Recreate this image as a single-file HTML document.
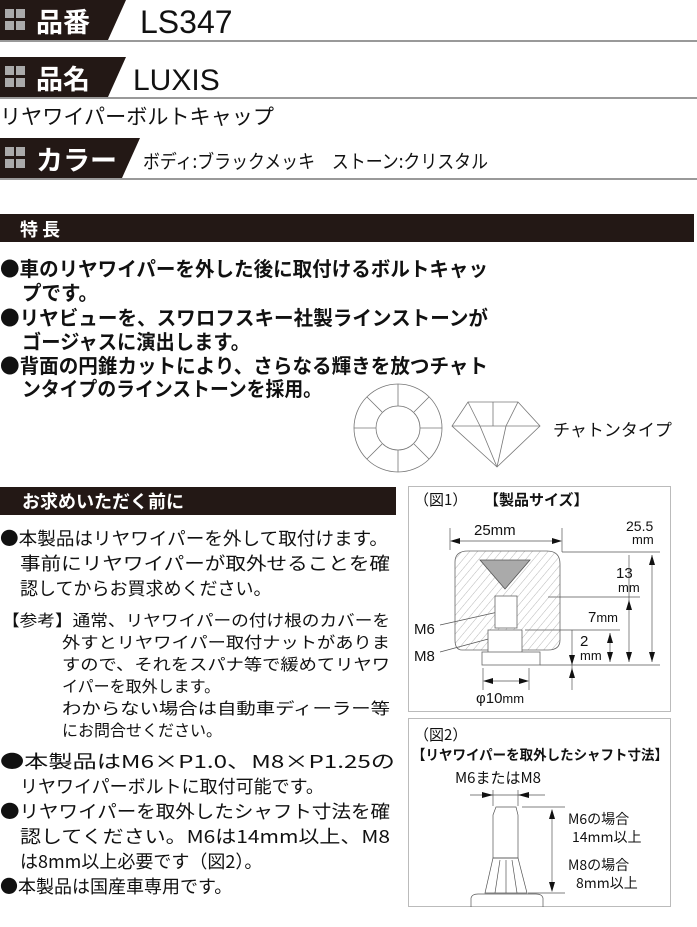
<!DOCTYPE html>
<html><head><meta charset="utf-8"><style>
html,body{margin:0;padding:0;background:#fff;}
svg{display:block;}
text{font-family:"Liberation Sans","Noto Sans CJK JP",sans-serif;fill:#111;}
.j{font-family:"Noto Sans CJK JP",sans-serif;}
</style></head><body>
<svg width="697" height="927" viewBox="0 0 697 927" xmlns="http://www.w3.org/2000/svg">
<polygon points="0,0 126,0 108,40 0,40" fill="#231815"/>
<rect x="5" y="9" width="9" height="9" fill="#aaa"/><rect x="16" y="9" width="9" height="9" fill="#aaa"/>
<rect x="5" y="21" width="9" height="9" fill="#aaa"/><rect x="16" y="21" width="9" height="9" fill="#aaa"/>
<text x="36" y="32" class="j" font-size="27" font-weight="bold" style="fill:#fff">品番</text>
<text x="140" y="33" font-size="32">LS347</text>
<rect x="0" y="40" width="697" height="2" fill="#999"/>
<polygon points="0,57 126,57 108,97 0,97" fill="#231815"/>
<rect x="5" y="66" width="9" height="9" fill="#aaa"/><rect x="16" y="66" width="9" height="9" fill="#aaa"/>
<rect x="5" y="78" width="9" height="9" fill="#aaa"/><rect x="16" y="78" width="9" height="9" fill="#aaa"/>
<text x="36" y="89" class="j" font-size="27" font-weight="bold" style="fill:#fff">品名</text>
<text x="133" y="90" font-size="30">LUXIS</text>
<rect x="0" y="97" width="697" height="2" fill="#999"/>
<text x="0" y="124" class="j" font-size="21" textLength="274" lengthAdjust="spacingAndGlyphs">リヤワイパーボルトキャップ</text>
<polygon points="0,138 140,138 122,178 0,178" fill="#231815"/>
<rect x="5" y="147" width="9" height="9" fill="#aaa"/><rect x="16" y="147" width="9" height="9" fill="#aaa"/>
<rect x="5" y="159" width="9" height="9" fill="#aaa"/><rect x="16" y="159" width="9" height="9" fill="#aaa"/>
<text x="36" y="170" class="j" font-size="27" font-weight="bold" style="fill:#fff">カラー</text>
<text x="143" y="168" class="j" font-size="19" textLength="345" lengthAdjust="spacingAndGlyphs">ボディ:ブラックメッキ　ストーン:クリスタル</text>
<rect x="0" y="178" width="697" height="2" fill="#999"/>
<rect x="0" y="214" width="694" height="28" fill="#231815"/>
<text x="20" y="236" class="j" font-size="18" font-weight="bold" style="fill:#fff">特 長</text>
<g font-size="20" font-weight="bold">
<text x="0" y="276" class="j" textLength="488" lengthAdjust="spacingAndGlyphs">●車のリヤワイパーを外した後に取付けるボルトキャッ</text>
<text x="22" y="300" class="j" textLength="76" lengthAdjust="spacingAndGlyphs">プです。</text>
<text x="0" y="325" class="j" textLength="488" lengthAdjust="spacingAndGlyphs">●リヤビューを、スワロフスキー社製ラインストーンが</text>
<text x="22" y="349" class="j" textLength="228" lengthAdjust="spacingAndGlyphs">ゴージャスに演出します。</text>
<text x="0" y="373" class="j" textLength="488" lengthAdjust="spacingAndGlyphs">●背面の円錐カットにより、さらなる輝きを放つチャト</text>
<text x="22" y="396" class="j" textLength="300" lengthAdjust="spacingAndGlyphs">ンタイプのラインストーンを採用。</text>
</g>
<g stroke="#777" stroke-width="0.8" fill="none">
<ellipse cx="398" cy="428" rx="44" ry="44"/>
<ellipse cx="398" cy="428" rx="22" ry="22"/>
<line x1="398" y1="384" x2="398" y2="406"/><line x1="398" y1="450" x2="398" y2="472"/>
<line x1="354" y1="428" x2="376" y2="428"/><line x1="420" y1="428" x2="442" y2="428"/>
<line x1="367" y1="397" x2="382" y2="412"/><line x1="429" y1="397" x2="414" y2="412"/>
<line x1="367" y1="459" x2="382" y2="444"/><line x1="429" y1="459" x2="414" y2="444"/>
<polygon points="468,402 518,402 540,426 497,467 452,426"/>
<line x1="452" y1="426" x2="540" y2="426"/>
<line x1="468" y1="402" x2="480" y2="426"/><line x1="518" y1="402" x2="506" y2="426"/>
<line x1="480" y1="426" x2="497" y2="467"/><line x1="506" y1="426" x2="497" y2="467"/>
<line x1="493" y1="402" x2="493" y2="426"/>
</g>
<text x="553" y="436" class="j" font-size="17">チャトンタイプ</text>
<rect x="0" y="487" width="396" height="28" fill="#231815"/>
<text x="22" y="508" class="j" font-size="18" font-weight="bold" style="fill:#fff">お求めいただく前に</text>
<g font-size="18">
<text x="0" y="545" class="j" textLength="388" lengthAdjust="spacingAndGlyphs">●本製品はリヤワイパーを外して取付けます。</text>
<text x="20" y="570" class="j" textLength="370" lengthAdjust="spacingAndGlyphs">事前にリヤワイパーが取外せることを確</text>
<text x="20" y="595" class="j">認してからお買求めください。</text>
</g>
<g font-size="16">
<text x="2" y="626" class="j" textLength="388" lengthAdjust="spacingAndGlyphs">【参考】通常、リヤワイパーの付け根のカバーを</text>
<text x="62" y="648" class="j" textLength="328" lengthAdjust="spacingAndGlyphs">外すとリヤワイパー取付ナットがありま</text>
<text x="62" y="670" class="j" textLength="328" lengthAdjust="spacingAndGlyphs">すので、それをスパナ等で緩めてリヤワ</text>
<text x="62" y="692" class="j">イパーを取外します。</text>
<text x="62" y="714" class="j" textLength="328" lengthAdjust="spacingAndGlyphs">わからない場合は自動車ディーラー等</text>
<text x="62" y="736" class="j">にお問合せください。</text>
</g>
<g font-size="18">
<text x="0" y="768" class="j" textLength="395" lengthAdjust="spacingAndGlyphs">●本製品はM6×P1.0、M8×P1.25の</text>
<text x="20" y="793" class="j">リヤワイパーボルトに取付可能です。</text>
<text x="0" y="818" class="j" textLength="390" lengthAdjust="spacingAndGlyphs">●リヤワイパーを取外したシャフト寸法を確</text>
<text x="20" y="843" class="j" textLength="370" lengthAdjust="spacingAndGlyphs">認してください。M6は14mm以上、M8</text>
<text x="20" y="868" class="j">は8mm以上必要です（図2）。</text>
<text x="0" y="893" class="j">●本製品は国産車専用です。</text>
</g>
<rect x="408.5" y="486.5" width="262" height="225" fill="none" stroke="#bbb"/>
<text x="414" y="505" class="j" font-size="15">（図1）</text>
<text x="484" y="505" class="j" font-size="15" font-weight="bold">【製品サイズ】</text>
<text x="474" y="535" font-size="15">25mm</text>
<text x="626" y="531" font-size="14">25.5</text><text x="632" y="544" font-size="13">mm</text>
<text x="616" y="578" font-size="15">13</text><text x="618" y="592" font-size="13">mm</text>
<text x="588" y="622" font-size="15">7<tspan font-size="13">mm</tspan></text>
<text x="580" y="646" font-size="15">2</text><text x="580" y="660" font-size="13">mm</text>
<text x="414" y="634" font-size="15">M6</text>
<text x="414" y="661" font-size="15">M8</text>
<text x="476" y="703" font-size="15">φ10<tspan font-size="13">mm</tspan></text>
<g stroke="#555" stroke-width="0.7" fill="none">
<line x1="450" y1="528" x2="450" y2="550"/><line x1="562" y1="528" x2="562" y2="552"/>
<line x1="456" y1="541" x2="556" y2="541"/>
<line x1="562" y1="552" x2="660" y2="552"/><line x1="548" y1="597" x2="640" y2="597"/>
<line x1="525" y1="630" x2="620" y2="630"/><line x1="540" y1="665" x2="660" y2="665"/>
<line x1="572" y1="630" x2="572" y2="690"/>
<line x1="629" y1="555" x2="629" y2="662"/><line x1="652" y1="555" x2="652" y2="662"/>
<line x1="610" y1="633" x2="610" y2="662"/>
<line x1="483" y1="668" x2="483" y2="690"/><line x1="529" y1="668" x2="529" y2="690"/>
<line x1="488" y1="681" x2="524" y2="681"/>
<line x1="440" y1="625" x2="498" y2="612"/><line x1="440" y1="652" x2="492" y2="638"/>
</g>
<g fill="#111">
<polygon points="450,541 460,538 460,544"/><polygon points="562,541 552,538 552,544"/>
<polygon points="652,555 649,565 655,565"/><polygon points="652,662 649,652 655,652"/>
<polygon points="629,600 626,610 632,610"/><polygon points="629,662 626,652 632,652"/>
<polygon points="610,633 607,643 613,643"/><polygon points="610,662 607,652 613,652"/>
<polygon points="572,665 569,655 575,655"/><polygon points="572,668 569,678 575,678"/>
<polygon points="483,681 493,678 493,684"/><polygon points="529,681 519,678 519,684"/>
</g>
<defs><pattern id="h" width="6" height="6" patternUnits="userSpaceOnUse" patternTransform="rotate(40)"><line x1="0" y1="0" x2="0" y2="6" stroke="#888" stroke-width="0.6"/></pattern></defs>
<path d="M455,562 Q455,551 468,551 L547,551 Q560,551 560,564 L560,640 Q560,650 548,650 L462,650 Q455,650 455,640 Z" fill="url(#h)" stroke="#666" stroke-width="0.8"/>
<polygon points="480,560 530,560 505,589" fill="#aaa" stroke="#555" stroke-width="0.8"/>
<rect x="495" y="596" width="22" height="32" fill="#fff" stroke="#666" stroke-width="0.8"/>
<rect x="488" y="630" width="34" height="25" fill="#fff" stroke="#666" stroke-width="0.8"/>
<rect x="482" y="652" width="58" height="13" fill="#fff" stroke="#666" stroke-width="0.8"/>
<rect x="408.5" y="718.5" width="262" height="188" fill="none" stroke="#bbb"/>
<text x="414" y="740" class="j" font-size="15">（図2）</text>
<text x="412" y="760" class="j" font-size="14" font-weight="bold" textLength="256" lengthAdjust="spacingAndGlyphs">【リヤワイパーを取外したシャフト寸法】</text>
<text x="455" y="783" class="j" font-size="15">M6またはM8</text>
<text x="568" y="824" class="j" font-size="14">M6の場合</text>
<text x="572" y="842" class="j" font-size="14">14mm以上</text>
<text x="568" y="870" class="j" font-size="14">M8の場合</text>
<text x="576" y="888" class="j" font-size="14">8mm以上</text>
<g stroke="#555" stroke-width="0.7" fill="none">
<line x1="470" y1="795" x2="545" y2="795"/>
<line x1="493" y1="790" x2="493" y2="806"/><line x1="518" y1="790" x2="518" y2="806"/>
<line x1="522" y1="807" x2="565" y2="807"/><line x1="528" y1="893" x2="565" y2="893"/>
<line x1="552" y1="810" x2="552" y2="890"/>
<path d="M496,807 L516,807 L518,815 L518,858 L493,858 L493,815 Z"/>
<path d="M493,858 L518,858 L527,893 L485,893 Z"/>
<line x1="500" y1="860" x2="495" y2="893"/><line x1="506" y1="860" x2="506" y2="893"/><line x1="512" y1="860" x2="517" y2="893"/>
<path d="M471,907 L471,898 Q472,894 478,894 L536,894 Q542,894 543,898 L543,907"/>
</g>
<g fill="#111">
<polygon points="493,795 482,792 482,798"/><polygon points="518,795 529,792 529,798"/>
<polygon points="552,809 549,819 555,819"/><polygon points="552,892 549,882 555,882"/>
</g>
</svg>
</body></html>
